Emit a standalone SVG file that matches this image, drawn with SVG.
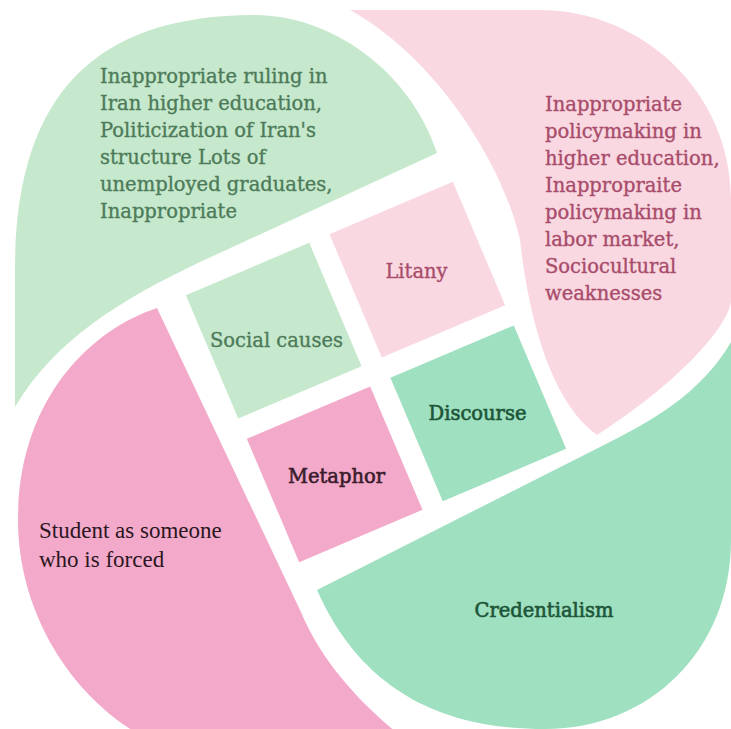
<svg xmlns="http://www.w3.org/2000/svg" width="731" height="729" viewBox="0 0 731 729">
<style>
.t{font-family:"DejaVu Serif","Liberation Serif",serif;font-size:19.5px;stroke-width:0.35px}
.s{font-family:"Liberation Serif","DejaVu Serif",serif;font-size:23px;fill:#2b1622}
.g1{fill:#c6e9cd}.p1{fill:#fad8e1}.p2{fill:#f3aaca}.g2{fill:#9fe0c0}
.tg1{fill:#4d7b59;stroke:#4d7b59}.tp1{fill:#a84c6b;stroke:#a84c6b}.tp2{fill:#3b1c2c;stroke:#3b1c2c}.tg2{fill:#1d5538;stroke:#1d5538}
.b{stroke-width:0.6px}
</style>
<rect width="731" height="729" fill="#ffffff"/>

<g id="petal-top-left">
<path class="g1" d="M15,407 L15,270 C15,100 90,15 255,15 C330,15 410,70 437,153 L200,262 C120,300 55,340 15,407 Z"/>
<text class="t tg1"><tspan x="100" y="83">Inappropriate ruling in</tspan><tspan x="100" y="110">Iran higher education,</tspan><tspan x="100" y="137">Politicization of Iran's</tspan><tspan x="100" y="164">structure Lots of</tspan><tspan x="100" y="191">unemployed graduates,</tspan><tspan x="100" y="218">Inappropriate</tspan></text>
</g>

<g id="petal-top-right">
<path class="p1" d="M350,10 L540,10 C640,10 731,90 731,200 L731,300 C731,320 690,375 597,435 C555,405 530,330 520,240 C505,170 440,60 350,10 Z"/>
<text class="t tp1"><tspan x="545" y="111">Inappropriate</tspan><tspan x="545" y="138">policymaking in</tspan><tspan x="545" y="165">higher education,</tspan><tspan x="545" y="192">Inappropraite</tspan><tspan x="545" y="219">policymaking in</tspan><tspan x="545" y="246">labor market,</tspan><tspan x="545" y="273">Sociocultural</tspan><tspan x="545" y="300">weaknesses</tspan></text>
</g>

<g id="petal-bottom-right">
<path class="g2" d="M317,590 L600,447 C650,422 700,395 731,342 L731,540 C731,650 650,729 545,729 C470,729 370,710 317,590 Z"/>
<text class="t tg2 b" x="544" y="617" text-anchor="middle">Credentialism</text>
</g>

<g id="petal-bottom-left">
<path class="p2" d="M157,308 C90,330 18,400 18,520 C18,620 80,710 160,745 L412,745 C370,712 325,670 300,610 Z"/>
<text class="s"><tspan x="39" y="538">Student as someone</tspan><tspan x="39" y="567">who is forced</tspan></text>
</g>

<g id="social-causes">
<rect class="g1" transform="translate(376,372) rotate(-23)" x="-145" y="-145" width="134" height="134"/>
<text class="t tg1" x="276.5" y="347" text-anchor="middle">Social causes</text>
</g>

<g id="litany">
<rect class="p1" transform="translate(376,372) rotate(-23)" x="11" y="-145" width="134" height="134"/>
<text class="t tp1" x="416.5" y="278" text-anchor="middle">Litany</text>
</g>

<g id="discourse">
<rect class="g2" transform="translate(376,372) rotate(-23)" x="11" y="11" width="134" height="134"/>
<text class="t tg2 b" x="477.5" y="420" text-anchor="middle">Discourse</text>
</g>

<g id="metaphor">
<rect class="p2" transform="translate(376,372) rotate(-23)" x="-145" y="11" width="134" height="134"/>
<text class="t tp2 b" x="336.5" y="483" text-anchor="middle">Metaphor</text>
</g>

<g id="connectors"/>
</svg>
